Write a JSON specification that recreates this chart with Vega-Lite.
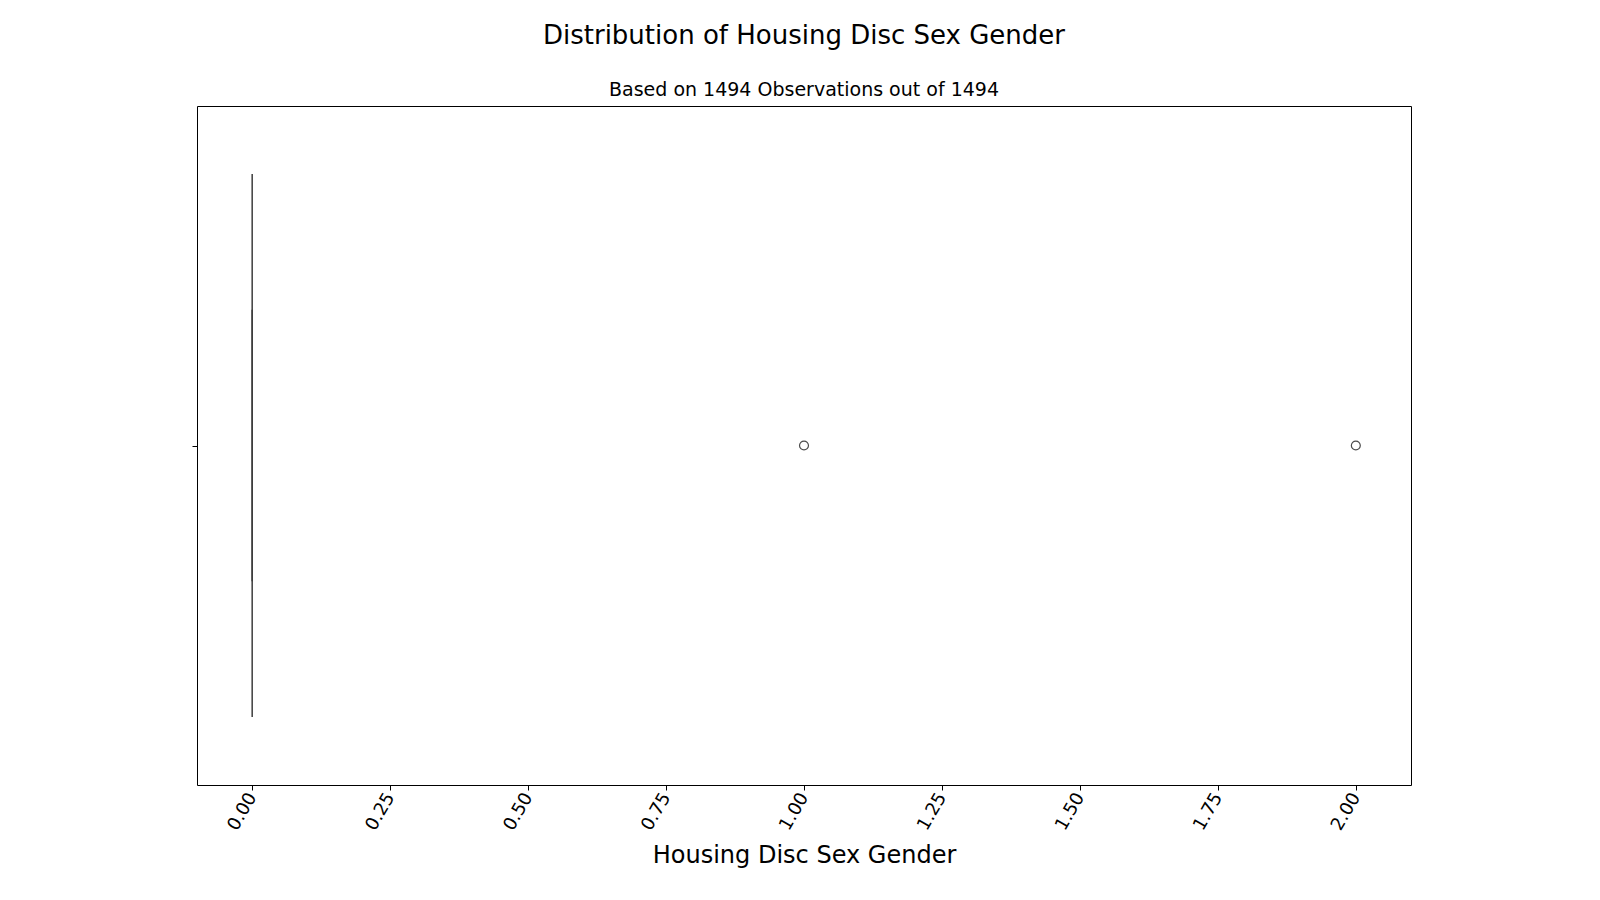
{
  "$schema": "https://vega.github.io/schema/vega-lite/v6.json",
  "width": 1214,
  "height": 679,
  "autosize": "none",
  "padding": {"left": 197, "top": 106, "right": 189, "bottom": 115},
  "background": "white",
  "config": {
    "font": "DejaVu Sans",
    "view": {"stroke": "black", "strokeWidth": 1}
  },
  "title": {
    "text": "Distribution of Housing Disc Sex Gender",
    "subtitle": "Based on 1494 Observations out of 1494",
    "fontSize": 26,
    "fontWeight": "normal",
    "subtitleFontSize": 19,
    "subtitleColor": "black",
    "subtitlePadding": 32,
    "offset": 6,
    "anchor": "middle"
  },
  "datasets": {
    "box": [{"stat": "box", "x": 0, "y_lo": 0.1, "y_hi": 0.9}, {"stat": "whisker", "x": 0, "y_lo": 0.3, "y_hi": 0.7}],
    "outliers": [{"value": 1, "y": 0.5}, {"value": 2, "y": 0.5}]
  },
  "layer": [
    {
      "data": {"name": "box"},
      "mark": {"type": "rule", "color": "#3d3d3d", "strokeWidth": 1.5},
      "encoding": {
        "x": {
          "field": "x",
          "type": "quantitative",
          "scale": {"domain": [-0.1, 2.1], "nice": false, "zero": false},
          "axis": {
            "values": [0, 0.25, 0.5, 0.75, 1, 1.25, 1.5, 1.75, 2],
            "format": ".2f",
            "labelAngle": -60,
            "labelFontSize": 18,
            "labelColor": "black",
            "labelPadding": 4,
            "tickColor": "black",
            "domain": false,
            "grid": false,
            "title": "Housing Disc Sex Gender",
            "titleFontSize": 24,
            "titleFontWeight": "normal",
            "titleColor": "black",
            "titlePadding": 10
          }
        },
        "y": {
          "field": "y_lo",
          "type": "quantitative",
          "scale": {"domain": [1, 0], "nice": false},
          "axis": {"values": [0.5], "labels": false, "domain": false, "grid": false, "title": null, "tickColor": "black"}
        },
        "y2": {"field": "y_hi"}
      }
    },
    {
      "data": {"name": "outliers"},
      "mark": {"type": "point", "shape": "circle", "filled": false, "stroke": "black", "strokeWidth": 1.2, "size": 80},
      "encoding": {
        "x": {"field": "value", "type": "quantitative"},
        "y": {"field": "y", "type": "quantitative"}
      }
    }
  ]
}
